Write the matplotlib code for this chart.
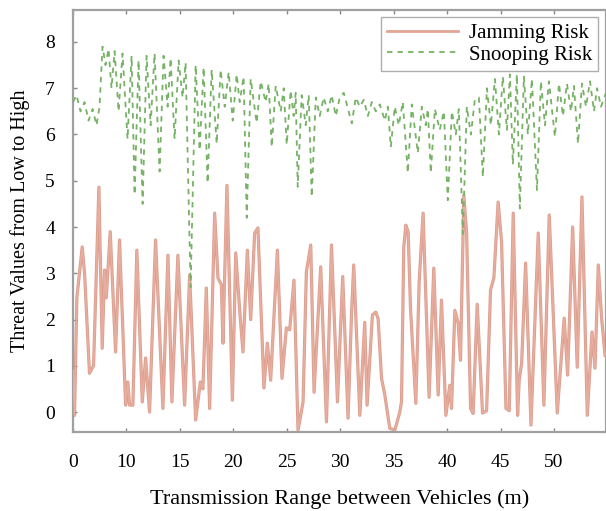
import matplotlib
matplotlib.use("Agg")
import matplotlib.pyplot as plt

# ---- data ----
jam_x = [0.0, 0.14, 0.36, 0.86, 1.08, 1.54, 1.92, 2.42, 2.73, 2.95, 3.11, 3.48, 3.98, 4.35, 4.92, 5.13, 5.29,
         5.60, 5.97, 6.48, 6.79, 7.16, 7.72, 8.41, 8.88, 9.25, 9.81, 10.44, 10.91, 11.47, 11.91, 12.15, 12.47,
         12.78, 13.25, 13.56, 13.88, 14.03, 14.40, 14.91, 15.22, 15.59, 15.90, 16.31, 16.62, 16.99, 17.30, 17.86,
         18.18, 18.49, 19.12, 19.55, 19.96, 20.27, 20.67, 21.05, 21.52, 21.83, 22.24, 22.55, 23.17, 23.71, 24.18, 24.74,
         25.23, 25.73, 26.05, 26.26, 26.83, 27.29, 27.51, 28.01, 28.32, 28.54, 28.86, 29.17, 29.63, 30.10, 30.57,
         30.73, 30.94, 31.13, 31.35, 31.57, 32.07, 32.38, 32.75, 33.31, 33.75, 34.16, 34.47, 34.88, 35.25, 35.41,
         35.72, 36.03, 36.25, 36.56, 36.82, 37.19, 37.43,
         37.81, 38.31, 38.69, 39.06, 39.37, 39.77, 40.09, 40.50, 40.81, 41.18, 41.59, 41.74, 41.97, 42.34, 42.84,
         43.52, 44.05, 44.55, 45.30, 45.95, 46.27, 46.74, 47.17, 47.61, 48.11, 48.55, 48.83, 49.14, 49.45, 49.77]
jam_y = [0.9, -0.07, 2.47, 3.57, 3.0, 0.84, 1.0, 4.86, 1.38, 3.07, 2.47, 3.9, 1.3, 3.72, 0.15, 0.65, 0.15,
         0.15, 3.5, 0.22, 1.17, 0.0, 3.72, 0.08, 3.39, 0.22, 3.39, 0.15, 2.96, -0.17, 0.65, 0.5, 2.68,
         0.08, 4.3, 2.9, 2.75, 1.49, 4.9, 0.26, 3.44, 2.2, 1.3, 3.5, 2.0, 3.87, 3.98, 0.52,
         1.49, 0.69, 3.5, 0.73, 1.82, 1.78, 2.85, -0.39, 0.22, 3.03, 3.61, 0.43, 3.14, -0.21, 3.61, 0.22,
         2.93, -0.13, 2.1, 3.18, -0.07, 1.94, 0.15, 2.1, 2.16, 2.02, 0.73, 0.37, -0.35, -0.39, 0.0,
         0.22, 3.55, 4.04, 3.9, 2.25, 0.19, 2.81, 4.3, 0.32, 3.11, 0.37, 2.42, -0.07, 0.58, 0.08,
         2.2, 1.92, 1.12, 4.69, 3.87, 0.08, -0.03,
         2.33, -0.02, 0.03, 2.64, 2.9, 4.54, 3.68, 0.08, 0.03, 4.3, -0.07, 0.69, 1.06, 3.22, -0.28,
         3.87, 0.15, 4.26, -0.02, 2.03, 0.8, 4.0, 0.97, 4.65, -0.07, 1.73, 0.95, 3.18, 2.03, 1.23]

snoop_x = [0.0, 0.33, 0.70, 1.08, 1.45, 1.83, 2.20, 2.48,
           2.76, 3.04, 3.32, 3.60, 3.89, 4.26, 4.63, 5.10, 5.48, 5.76, 6.13, 6.51, 6.88, 7.26, 7.63, 8.10,
           8.47, 8.85, 9.13, 9.50, 9.88, 10.25, 10.53, 11.00, 11.47, 11.84, 12.22, 12.59, 12.97, 13.44, 13.81,
           14.19, 14.56, 14.94, 15.31, 15.59, 15.96, 16.25, 16.62, 17.18, 17.56, 18.02, 18.30, 18.59, 18.96,
           19.43, 19.71, 19.99, 20.36, 20.64, 20.83, 21.02, 21.39, 21.77, 22.05, 22.33, 22.71, 23.08, 23.45,
           23.83, 24.20, 24.58, 24.95,
           25.33, 26.08, 26.45, 26.83, 27.20, 27.58, 27.95, 28.32, 28.70, 29.17, 29.45, 29.73, 30.10, 30.48,
           30.85, 31.32, 31.69, 32.26, 32.63, 33.00, 33.19, 33.47, 33.85, 34.31, 34.69, 35.06, 35.44, 35.81,
           36.09, 36.47, 36.84, 37.22, 37.59, 37.97, 38.34, 38.72, 39.09, 39.47, 39.84, 40.21, 40.59, 40.87,
           41.15, 41.52, 41.80, 42.18, 42.55, 42.93, 43.40, 43.77, 44.15, 44.52, 45.08, 45.46, 45.83, 46.21,
           46.58, 46.86, 47.24, 47.61, 47.99, 48.36, 48.74, 49.02, 49.39, 49.86]
snoop_y = [6.7, 6.85, 6.5, 6.7, 6.3, 6.55, 6.2, 6.6,
           7.9, 7.5, 7.85, 7.0, 7.8, 6.5, 7.75, 5.9, 7.7, 4.7, 7.6, 4.5, 7.7, 6.2, 7.75, 5.2,
           7.7, 6.6, 7.65, 5.9, 7.6, 6.8, 7.55, 2.7, 7.5, 5.66, 7.45, 4.95, 7.4, 5.8, 7.4,
           6.6, 7.35, 6.3, 7.3, 6.7, 7.25, 4.2, 7.2, 6.25, 7.15, 6.7, 7.1, 5.73, 7.05,
           6.5, 7.0, 5.78, 6.95, 6.4, 6.9, 4.87, 6.85, 6.2, 6.85, 4.65, 6.8, 6.4, 6.8,
           6.5, 6.85, 6.4, 6.8,
           6.9, 6.24, 6.8, 6.6, 6.75, 6.4, 6.7, 6.5, 6.65, 6.3, 6.6, 5.73, 6.6, 6.2,
           6.7, 5.17, 6.65, 5.6, 6.6, 6.2, 6.55, 5.17, 6.55, 6.1, 6.5, 4.58, 6.5, 6.0,
           6.55, 3.85, 6.6, 6.0, 6.75, 6.8, 5.08, 7.0, 6.2, 7.2, 6.0, 7.25, 6.1, 7.3,
           5.35, 7.3, 4.4, 7.25, 6.0, 7.2, 4.8, 7.15, 6.2, 7.15, 5.95, 7.1, 6.4, 7.1,
           6.5, 7.05, 5.8, 7.1, 6.6, 7.15, 6.5, 7.0, 6.6, 6.9]

x_tick_pos = [0, 5, 10, 15, 20, 25, 30, 35, 40, 45]
x_tick_labels = ["0", "10", "15", "20", "25", "30", "35", "40", "45", "50"]
y_ticks = [0, 1, 2, 3, 4, 5, 6, 7, 8]

series_names = ["Jamming Risk", "Snooping Risk"]

# ---- figure ----
plt.rcParams['font.family'] = ['Liberation Serif', 'DejaVu Serif']
fig = plt.figure(figsize=(6.06, 5.11), dpi=100)
ax = fig.add_axes([0.1205, 0.1546, 0.8795, 0.8258])

ax.plot(jam_x, jam_y, color='#c66a55', lw=2.3, alpha=0.65, solid_joinstyle='round', zorder=2)
jam_line, = ax.plot(jam_x, jam_y, color='#e9ad9d', lw=1.2, solid_joinstyle='round', zorder=3,
                    label=series_names[0])
snoop_line, = ax.plot(snoop_x, snoop_y, color='#78b266', lw=1.3, ls=(0, (3.0, 2.8)), zorder=4,
                      label=series_names[1])

ax.set_xlim(0, 49.86)
ax.set_ylim(-0.43, 8.69)
ax.set_xticks(x_tick_pos)
ax.set_xticklabels(x_tick_labels)
ax.set_yticks(y_ticks)

ax.tick_params(axis='x', direction='in', length=3, width=1, color='#888888', pad=16,
               labelsize=14, top=True)
ax.tick_params(axis='y', direction='in', length=3, width=1, color='#888888', pad=13,
               labelsize=14)
for s in ax.spines.values():
    s.set_color('#a0a0a0')
    s.set_linewidth(1.6)

ax.set_xlabel("Transmission Range between Vehicles (m)", fontsize=16, labelpad=13)
ax.set_ylabel("Threat Values from Low to High", fontsize=14.5, labelpad=11)

leg = ax.legend(handles=[jam_line, snoop_line], loc='upper right', bbox_to_anchor=(0.985, 0.983),
                borderaxespad=0, fontsize=15, frameon=True, fancybox=False, handlelength=3.4,
                handletextpad=0.5, borderpad=0.3, labelspacing=0.1)
leg.get_frame().set_edgecolor('#999999')
leg.get_frame().set_linewidth(1.0)
leg.legend_handles[0].set_color('#e2a595')
leg.legend_handles[0].set_linewidth(2.0)

fig.savefig("out.png", dpi=100)
